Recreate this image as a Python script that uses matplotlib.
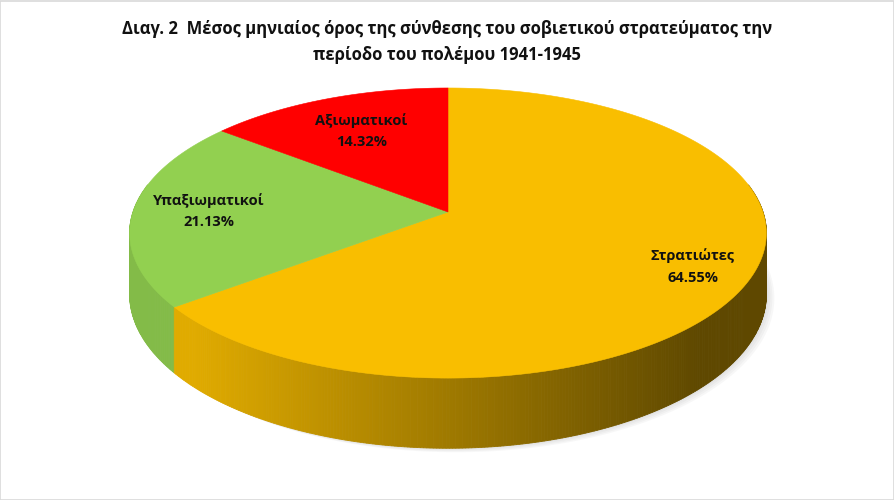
import numpy as np
import matplotlib
matplotlib.use("Agg")
import matplotlib.pyplot as plt
from matplotlib.patches import Polygon, Rectangle
from matplotlib.colors import to_rgb

TITLE = ("Διαγ. 2  Μέσος μηνιαίος όρος της σύνθεσης του σοβιετικού στρατεύματος την\n"
         "περίοδο του πολέμου 1941-1945")
categories = ["Στρατιώτες", "Υπαξιωματικοί", "Αξιωματικοί"]
shares = [64.55, 21.13, 14.32]
colors = ["#F9BE00", "#92D050", "#FF0000"]

# tilted pie layout (pixels)
CX, CY = 448, 212
RX, RY = 315, 142
PERSP = 0.145
DEPTH = 60
LABEL_R = [0.82, 0.76, 0.69]
FONT = ["Open Sans", "DejaVu Sans"]


def project(phi, r=1.0, t=0.0):
    s = r * np.sin(phi)
    c = r * np.cos(phi)
    w = 1 + PERSP * s
    return CX + RX * c / w, CY + (-RY * s + DEPTH * t) / w


def shade(color, x):
    f = np.clip(0.92 - (x - 175) / 525 * 0.54, 0.38, 0.9)
    return tuple(v * f for v in to_rgb(color))


fig = plt.figure(figsize=(8.95, 5.0), dpi=100)
ax = fig.add_axes([0, 0, 1, 1])
ax.set_xlim(0, 895)
ax.set_ylim(500, 0)
ax.axis("off")

total = sum(shares)
bounds = 90 - 360 * np.concatenate([[0], np.cumsum(shares)]) / total
bounds = np.radians(bounds)

# soft shadow under the pie
full = np.linspace(-np.pi, np.pi, 360)
bx, by = project(full, t=1.0)
for off in [8, 6, 4, 2]:
    ax.add_patch(Polygon(np.column_stack([bx + off, by + off * 0.5]),
                         closed=True, facecolor="#808080", alpha=0.06,
                         lw=0, zorder=1))

# side walls, strip by strip
strips = []
for i, col in enumerate(colors):
    a0, a1 = bounds[i + 1], bounds[i]
    n = max(int(abs(a1 - a0) / np.radians(0.5)), 2)
    ph = np.linspace(a0, a1, n + 1)
    for p0, p1 in zip(ph[:-1], ph[1:]):
        mid = 0.5 * (p0 + p1)
        if np.sin(mid) > 0.2:
            continue
        strips.append((np.sin(mid), p0, p1, col))
strips.sort(key=lambda s: -s[0])
for _, p0, p1, col in strips:
    x0, y0 = project(p0)
    x1, y1 = project(p1)
    x2, y2 = project(p1, t=1.0)
    x3, y3 = project(p0, t=1.0)
    fc = shade(col, 0.5 * (x0 + x1))
    ax.add_patch(Polygon([[x0, y0], [x1, y1], [x2, y2], [x3, y3]], closed=True,
                         facecolor=fc, edgecolor=fc, lw=0.6, zorder=2))

# top face
for i, col in enumerate(colors):
    ph = np.linspace(bounds[i], bounds[i + 1], 200)
    x, y = project(ph)
    pts = np.column_stack([np.r_[CX, x], np.r_[CY, y]])
    ax.add_patch(Polygon(pts, closed=True, facecolor=col, edgecolor=col,
                         lw=0.4, zorder=3))

# data labels
for i, (cat, val) in enumerate(zip(categories, shares)):
    mid = 0.5 * (bounds[i] + bounds[i + 1])
    lx, ly = project(mid, r=LABEL_R[i])
    ax.text(lx, ly, f"{cat}\n{val:.2f}%", ha="center", va="center",
            fontsize=10.5, fontweight="bold", family=FONT, color="#111111",
            linespacing=1.7, zorder=5)

ax.text(447, 42, TITLE, ha="center", va="center", fontsize=12,
        fontweight="bold", family=FONT, color="#111111", linespacing=1.5)

ax.add_patch(Rectangle((0.5, 0.5), 894, 499, fill=False, edgecolor="#D9D9D9",
                       lw=1.2, zorder=6))

fig.savefig("out.png", dpi=100)
